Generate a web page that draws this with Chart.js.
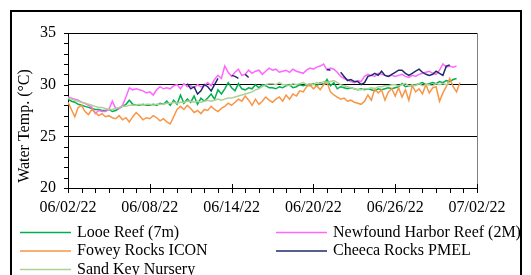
<!DOCTYPE html>
<html>
<head>
<meta charset="utf-8">
<script src="https://cdn.jsdelivr.net/npm/chart.js@4.4.0/dist/chart.umd.min.js"></script>
<style>
  html, body { margin: 0; padding: 0; background: #fff; }
  canvas { display: block; }
</style>
</head>
<body>
<canvas id="temp-chart" width="531" height="275"></canvas>
<script>
// one reading every 6 hours, starting 06/02/22 00:00
const stepDays = 0.25;
const tickLabels = ["06/02/22", "06/08/22", "06/14/22", "06/20/22", "06/26/22", "07/02/22"];
const seriesNames = ["Looe Reef (7m)", "Newfound Harbor Reef (2M)", "Fowey Rocks ICON", "Cheeca Rocks PMEL", "Sand Key Nursery"];
const seriesColors = ["#00b050", "#ff66ff", "#f79646", "#1f2a6b", "#add095"];

const looe = [
  28.6, 28.4, 28.3, 28.1, 28.0, 27.9, 27.8, 27.7,
  27.6, 27.6, 27.5, 27.5, 27.6, 27.4, 27.5, 27.7,
  27.9, 28.1, 28.5, 28.1, 28.0, 28.0, 28.1, 28.0,
  28.0, 28.1, 28.0, 28.2, 28.1, 28.4, 28.0, 28.5,
  28.1, 29.0, 28.2, 28.6, 28.3, 28.9, 28.1, 28.7,
  28.4, 28.7, 29.1, 28.6, 29.5, 29.1, 29.6, 30.2,
  29.7, 29.4, 30.1, 29.6, 29.5, 29.7, 29.6, 30.0,
  29.7, 30.0, 29.9, 29.7, 29.7, 29.6, 29.8, 29.7,
  29.9, 30.0, 29.7, 29.8, 30.0, 29.9, 30.0, 29.9,
  30.1, 29.9, 30.2, 30.0, 30.5, 29.9, 30.2, 29.6,
  29.8, 29.7, 29.6, 29.7, 29.6, 29.5, 29.6, 29.5,
  29.6, 29.5, 29.4, 29.6, 29.5, 29.6, 29.7, 29.6,
  29.7, 29.8, 30.1, 29.8, 29.9, 29.9, 30.0, 30.1,
  30.2, 30.0, 30.1, 30.2, 30.1, 30.3, 30.2, 30.4,
  30.3, 30.5, 30.6
];
const newfound = [
  28.8, 28.7, 28.6, 28.5, 28.3, 28.2, 28.0, 27.8,
  27.2, 27.5, 27.4, 27.4, 27.6, 28.4, 27.7, 27.7,
  28.0, 28.8, 29.7, 29.5, 29.6, 29.5, 29.4, 29.2,
  29.3, 29.0, 29.5, 29.8, 29.6, 29.7, 29.6, 29.9,
  30.0, 29.6, 30.1, 29.8, 29.9, 29.7, 30.0, 29.8,
  29.9, 30.2, 29.9, 30.5, 30.9, 30.6, 31.8, 31.2,
  30.8, 31.2, 31.5, 30.9, 31.0, 31.4, 31.1, 31.3,
  31.4, 31.0, 31.3, 31.6, 31.4, 31.5, 31.2, 31.3,
  31.4, 31.2, 31.5, 31.3, 31.2, 31.1, 31.4, 31.6,
  31.5, 31.7, 31.8, 32.0, 31.4, 31.6, 31.5, 31.2,
  30.8, 30.6, 30.5, 30.3, 30.2, 30.4, 30.3, 30.8,
  31.0, 30.9, 30.8, 31.1, 31.0, 30.9, 30.8, 30.9,
  30.8, 30.9, 31.0, 30.8, 30.7, 30.9, 30.8, 31.0,
  31.1, 31.2, 31.3, 31.1, 31.0, 31.4, 32.0, 31.7,
  31.8, 31.7, 31.8
];
const fowey = [
  28.3, 27.6, 26.9, 27.8, 28.0, 27.4, 27.1, 27.6,
  27.3, 27.0, 27.2, 26.9, 27.0, 26.8, 26.7, 27.0,
  26.6, 26.8, 26.4, 26.9, 27.3, 27.0, 26.6, 26.8,
  26.7, 27.0, 26.8, 26.5, 26.7, 26.4, 26.2, 26.9,
  27.6, 27.9, 27.6, 28.0, 27.7, 27.3, 27.5, 27.2,
  27.6, 27.5, 27.9, 27.6, 27.4, 27.7, 27.9, 28.2,
  28.0, 28.3, 28.6, 28.4, 28.9, 28.5, 28.0, 28.6,
  28.1, 28.4, 28.8, 28.5, 28.3, 28.6, 28.8, 28.4,
  29.0, 28.6, 29.1, 28.9, 29.4, 29.3, 29.8, 30.0,
  29.6, 29.9, 29.5, 30.0, 30.2, 29.3, 29.0, 28.8,
  28.6, 28.7, 28.4, 28.5, 28.3, 28.2, 28.1, 28.4,
  29.0, 28.5, 29.6, 29.2, 29.5, 28.5, 29.3, 29.6,
  28.9, 29.7, 28.8, 29.5, 28.5, 29.9, 29.3, 29.6,
  29.1, 30.0, 29.2, 29.7, 29.8, 28.4, 29.2, 29.8,
  30.6, 29.8, 29.3, 30.2
];
const cheeca = [
  null, null, null, null, null, null, null, null,
  null, null, null, null, null, null, null, null,
  null, null, null, null, null, null, null, null,
  null, null, null, null, null, null, null, null,
  null, null, null, 30.1, 29.6, 29.8, 29.1, 29.4,
  30.0, 29.8, 29.4, 30.0, 30.6, null, null, null,
  30.9, 30.8, 30.6, null, 31.0, 30.7, null, null,
  null, null, null, null, null, null, null, null,
  null, null, null, null, null, null, null, null,
  null, null, null, null, 31.5, 31.4, null, null,
  31.2, 30.8, 30.4, 30.5, 30.3, 30.3, 30.0, 30.2,
  30.8, 30.9, 31.1, 30.9, 31.3, 30.9, 30.8, 31.0,
  31.2, 31.4, 31.4, 31.1, 30.9, 31.1, 31.3, 31.5,
  31.2, 31.0, 30.9, 31.0, 31.3, 31.1, 30.9, 31.8,
  31.9
];
const sandKey = [
  28.7, 28.6, 28.5, 28.4, 28.3, 28.2, 28.1, 28.0,
  27.9, 27.8, 27.8, 27.7, 27.6, 27.6, 27.7, 27.8,
  27.9, 27.9, 28.0, 28.0, 28.0, 28.1, 28.0, 28.1,
  28.1, 28.0, 28.1, 28.1, 28.1, 28.2, 28.2, 28.3,
  28.2, 28.3, 28.3, 28.4, 28.4, 28.3, 28.4, 28.3,
  28.4, 28.5, 28.4, 28.5, 28.6, 28.5, 28.6, 28.7,
  28.7, 28.8, 28.9, 29.0, 29.1, 29.2, 29.3, 29.5,
  29.6, 29.8, 30.0, 30.1, 30.1, 30.0, 30.2, 30.0,
  30.0, 29.9, 30.1, 30.0, 30.1, 30.2, 30.0, 30.1,
  30.0, 30.2, 30.1, 30.3, 30.2, 30.3, 30.4, 30.2,
  30.0, 29.9, 29.8, 29.7, 29.6, 29.5, 29.5, 29.6,
  29.6, 29.7, 29.6, 29.8, 29.8, 29.9, 29.9, 30.0,
  30.0, 29.9, 30.0, 30.1, 29.9, 30.0, 29.9, 30.1,
  29.9, 30.0, 30.0, 29.9, 30.1, 30.0, 30.1, 30.0,
  30.1
];

const allSeries = [looe, newfound, fowey, cheeca, sandKey];
const FONT = "'Liberation Serif', 'Times New Roman', serif";

function toPoints(arr) {
  return arr.map((v, i) => ({ x: i * stepDays, y: v }));
}

// frame, minor ticks, rotated axis title and the two-column legend
const excelDecor = {
  id: 'excelDecor',
  afterDraw(chart) {
    const ctx = chart.ctx, a = chart.chartArea;
    const xs = chart.scales.x, ys = chart.scales.y;
    ctx.save();
    ctx.strokeStyle = '#000';
    ctx.lineWidth = 2;
    ctx.strokeRect(11, 11, 510, 300);

    ctx.lineWidth = 1;
    ctx.strokeStyle = '#808080';
    ctx.beginPath();
    ctx.moveTo(Math.round(a.right) + 0.5, a.top);
    ctx.lineTo(Math.round(a.right) + 0.5, a.bottom);
    ctx.stroke();

    ctx.strokeStyle = '#000';
    ctx.beginPath();
    for (let d = 0; d <= 30; d++) {
      const px = Math.round(xs.getPixelForValue(d)) + 0.5;
      ctx.moveTo(px, d % 6 === 0 ? a.bottom - 4 : a.bottom);
      ctx.lineTo(px, a.bottom + 5);
    }
    for (let v = 20; v <= 35; v++) {
      const py = Math.round(ys.getPixelForValue(v)) + 0.5;
      ctx.moveTo(a.left - 4, py);
      ctx.lineTo(a.left, py);
    }
    ctx.stroke();

    ctx.fillStyle = '#000';
    ctx.font = '16px ' + FONT;
    ctx.save();
    ctx.translate(25, 126);
    ctx.rotate(-Math.PI / 2);
    ctx.textAlign = 'center';
    ctx.textBaseline = 'middle';
    ctx.fillText('Water Temp. (\u00b0C)', 0, 0);
    ctx.restore();

    const colX = [20, 276], rowY = 232.5, rowH = 18.5;
    ctx.textAlign = 'left';
    ctx.textBaseline = 'middle';
    chart.data.datasets.forEach((ds, i) => {
      const x0 = colX[i % 2], y0 = rowY + Math.floor(i / 2) * rowH;
      ctx.strokeStyle = ds.borderColor;
      ctx.lineWidth = 1.5;
      ctx.beginPath();
      ctx.moveTo(x0, y0);
      ctx.lineTo(x0 + 51, y0);
      ctx.stroke();
      ctx.fillStyle = '#000';
      ctx.fillText(ds.label, x0 + 57, y0);
    });
    ctx.restore();
  }
};

new Chart(document.getElementById('temp-chart'), {
  type: 'line',
  data: {
    datasets: allSeries.map((s, i) => ({
      label: seriesNames[i],
      data: toPoints(s),
      borderColor: seriesColors[i],
      borderWidth: 1.5,
      pointRadius: 0,
      tension: 0,
      fill: false,
      order: 5 - i
    }))
  },
  options: {
    responsive: false,
    animation: false,
    devicePixelRatio: 1,
    events: [],
    layout: { padding: { left: 11, top: 33, right: 54, bottom: 57 } },
    plugins: {
      legend: { display: false },
      tooltip: { enabled: false },
      title: { display: false }
    },
    scales: {
      x: {
        type: 'linear',
        min: 0,
        max: 30,
        afterFit: s => { s.height = 30; },
        ticks: {
          stepSize: 6,
          padding: 10,
          color: '#000',
          font: { family: FONT, size: 16 },
          maxRotation: 0,
          callback: v => tickLabels[v / 6]
        },
        grid: { display: false, drawTicks: false },
        border: { display: true, color: '#000', width: 1 }
      },
      y: {
        min: 20,
        max: 35,
        afterFit: s => { s.width = 57; },
        ticks: {
          stepSize: 5,
          padding: 12,
          color: '#000',
          font: { family: FONT, size: 16 }
        },
        grid: { color: '#000', lineWidth: 1, drawTicks: false },
        border: { display: true, color: '#000', width: 1 }
      }
    }
  },
  plugins: [excelDecor]
});
</script>
</body>
</html>
